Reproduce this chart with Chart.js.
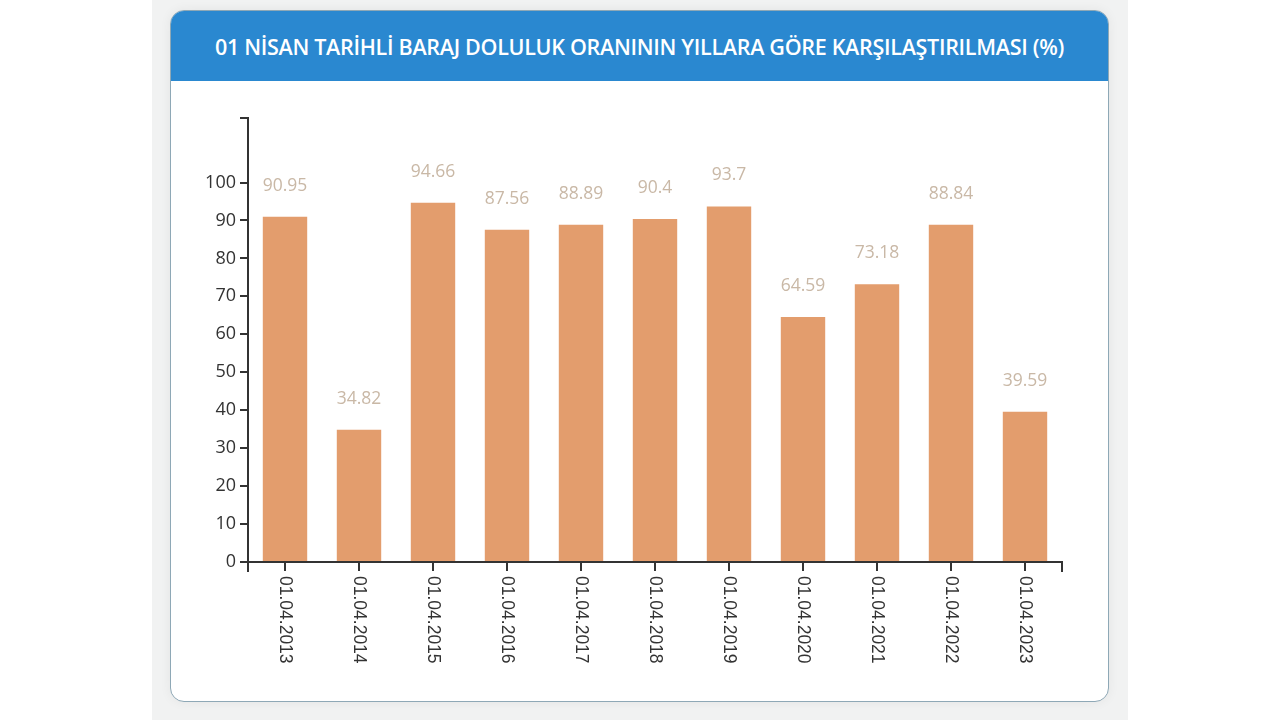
<!DOCTYPE html>
<html>
<head>
<meta charset="utf-8">
<script src="https://cdn.jsdelivr.net/npm/chart.js@4.4.1/dist/chart.umd.min.js"></script>
<style>
  html, body { margin: 0; padding: 0; width: 1280px; height: 720px; background: #fff; overflow: hidden; }
  .panel { position: absolute; left: 152px; top: 0; width: 976px; height: 720px; background: #f1f2f2; }
  .card { position: absolute; left: 170px; top: 10px; width: 937px; height: 690px; background: #fff;
          border: 1px solid #8ea8b6; border-radius: 14px; overflow: hidden; box-shadow: 0 0 12px rgba(0,0,0,0.06); }
  .head { height: 70px; background: #2a88d0; color: #fff; font-family: "Open Sans", sans-serif;
          font-weight: 600; font-size: 21.5px; line-height: 72px; text-align: center; letter-spacing: -0.3px; }
  canvas { position: absolute; left: 0; top: 0; }
</style>
</head>
<body>
<div class="panel"></div>
<div class="card"><div class="head">01 NİSAN TARİHLİ BARAJ DOLULUK ORANININ YILLARA GÖRE KARŞILAŞTIRILMASI (%)</div></div>
<canvas id="chartCanvas" width="1280" height="720"></canvas>
<script>
const dates = ['01.04.2013', '01.04.2014', '01.04.2015', '01.04.2016', '01.04.2017', '01.04.2018',
               '01.04.2019', '01.04.2020', '01.04.2021', '01.04.2022', '01.04.2023'];
const fillRates = [90.95, 34.82, 94.66, 87.56, 88.89, 90.4, 93.7, 64.59, 73.18, 88.84, 39.59];
const yTicks = [0, 10, 20, 30, 40, 50, 60, 70, 80, 90, 100];
const yTop = 117;

const axisColor = '#333';

// value labels above the bars + rotated date labels + end ticks of x axis
const extras = {
  id: 'extras',
  afterDatasetsDraw(chart) {
    const ctx = chart.ctx;
    const meta = chart.getDatasetMeta(0);
    ctx.save();
    ctx.font = '17.5px "Open Sans", sans-serif';
    ctx.fillStyle = '#c9b8a6';
    ctx.textAlign = 'center';
    ctx.textBaseline = 'alphabetic';
    meta.data.forEach((bar, i) => {
      ctx.fillText(String(fillRates[i]), bar.x, bar.y - 26);
    });

    const xs = chart.scales.x;
    const area = chart.chartArea;
    ctx.strokeStyle = axisColor;
    ctx.lineWidth = 2;
    [area.left, area.right].forEach(px => {
      ctx.beginPath();
      ctx.moveTo(px, area.bottom);
      ctx.lineTo(px, area.bottom + 10);
      ctx.stroke();
    });

    ctx.font = '17.5px "Liberation Sans", Arial, sans-serif';
    ctx.fillStyle = '#333';
    ctx.textAlign = 'left';
    ctx.textBaseline = 'middle';
    dates.forEach((d, i) => {
      const px = xs.getPixelForValue(i);
      ctx.save();
      ctx.translate(px, area.bottom + 14);
      ctx.rotate(Math.PI / 2);
      ctx.fillText(d, 0, 0);
      ctx.restore();
    });
    ctx.restore();
  }
};

new Chart(document.getElementById('chartCanvas').getContext('2d'), {
  type: 'bar',
  data: {
    labels: dates,
    datasets: [{
      data: fillRates,
      backgroundColor: '#e39d6d',
      barPercentage: 0.6,
      categoryPercentage: 1
    }]
  },
  options: {
    responsive: false,
    animation: false,
    layout: { padding: { left: 0, right: 218, top: 118, bottom: 0 } },
    plugins: { legend: { display: false }, tooltip: { enabled: false } },
    scales: {
      x: {
        offset: true,
        afterFit(scale) { scale.height = 158; },
        border: { color: axisColor, width: 2 },
        grid: { offset: false, drawOnChartArea: false, color: axisColor, lineWidth: 2, tickLength: 9 },
        ticks: { callback: () => '', maxRotation: 0 }
      },
      y: {
        min: 0,
        max: yTop,
        afterFit(scale) { scale.width = 248; },
        afterBuildTicks(scale) {
          scale.ticks = yTicks.concat([yTop]).map(v => ({ value: v }));
        },
        border: { color: axisColor, width: 2 },
        grid: { drawOnChartArea: false, color: axisColor, lineWidth: 2, tickLength: 8 },
        ticks: {
          color: '#333',
          padding: 4,
          font: { family: '"Open Sans", sans-serif', size: 18 },
          callback: v => (v === yTop ? '' : v)
        }
      }
    }
  },
  plugins: [extras]
});
</script>
</body>
</html>
